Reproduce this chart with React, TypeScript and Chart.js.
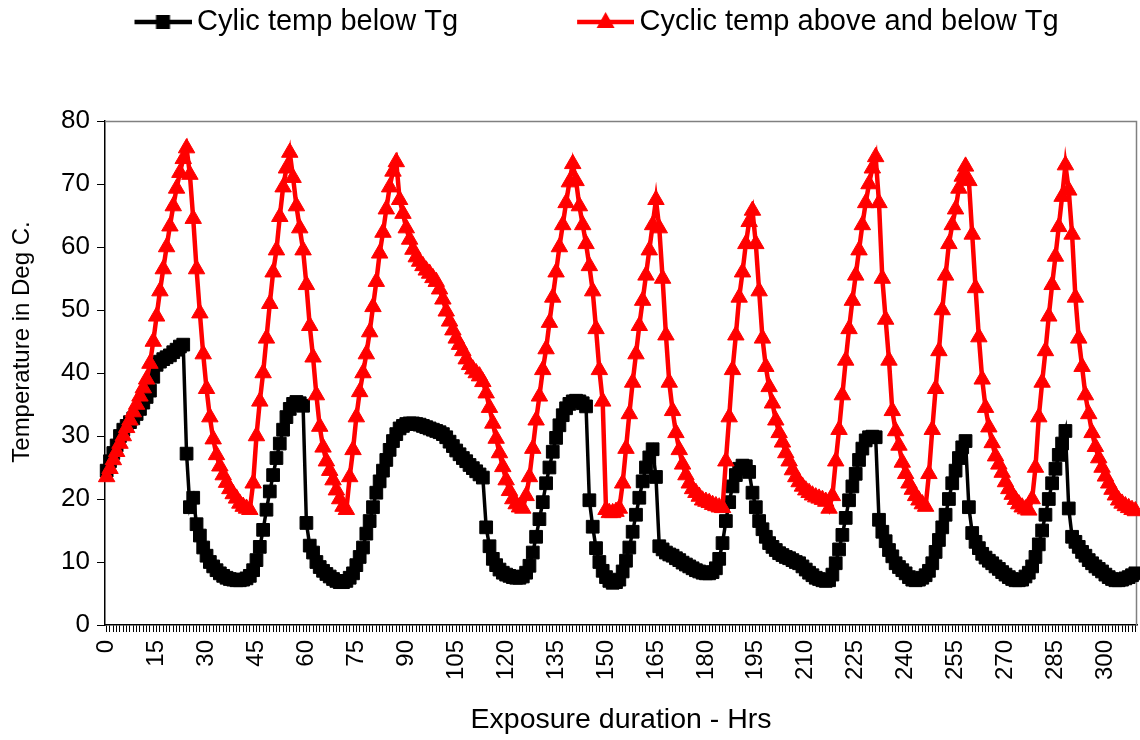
import React, { useEffect, useRef } from "react";
import { Chart, registerables } from "chart.js";

Chart.register(...registerables);

// ---------- data ----------
const HOURS: number[] = Array.from({ length: 310 }, (_, i) => i); // category axis, one per hour
const HOUR_LABEL_STEP = 15;
const Y_MIN = 0;
const Y_MAX = 80;
const Y_STEP = 10;

const SERIES_BELOW = "Cylic temp below Tg";
const SERIES_ABOVE = "Cyclic temp above and below Tg";
const X_TITLE = "Exposure duration - Hrs";
const Y_TITLE = "Temperature in Deg C.";

const BELOW_TG: number[] = [
  24.5, 26, 27.3, 28.5, 30, 31, 31.6, 32.2, 32.8, 33.5,
  34.3, 35.3, 36.2, 37.2, 39.4, 41.3, 41.8, 42.2, 42.5, 42.8,
  43.3, 43.7, 44.2, 44.5, 27.2, 18.7, 20.2, 16, 14.2, 12.3,
  11, 10, 9.3, 8.7, 8.2, 7.8, 7.5, 7.3, 7.2, 7.1,
  7.1, 7.2, 7.4, 7.8, 8.7, 10.3, 12.4, 15.1, 18.3, 21.2,
  23.8, 26.5, 28.8, 31, 33, 34.3, 35.1, 35.4, 35.2, 34.8,
  16.2, 12.6, 11.5, 10, 9.2, 8.6, 8.1, 7.7, 7.3, 7,
  6.8, 6.8, 7, 7.5, 8.2, 9.5, 10.8, 12.3, 14.5, 16.5,
  18.7, 21, 22.8, 24.5, 26.2, 27.8, 29.2, 30.3, 31.2, 31.6,
  31.9, 32, 32, 31.9, 31.8, 31.6, 31.4, 31.2, 31, 30.8,
  30.6, 30.3, 29.8, 29.1, 28.4, 27.7, 27.1, 26.5, 26, 25.4,
  24.9, 24.4, 23.9, 23.4, 15.5, 12.5, 10.5, 9.5, 8.8, 8.3,
  8, 7.8, 7.6, 7.5, 7.5, 7.7, 8.3, 9.4, 11.5, 14,
  16.8, 19.5, 22.5, 25, 27.5, 29.7, 31.7, 33.3, 34.4, 35.1,
  35.5, 35.6, 35.5, 35.2, 34.7, 19.8, 15.6, 12.2, 10, 8.6,
  7.6, 7, 6.7, 6.8, 7.2, 8.5, 10.2, 12.3, 14.8, 17.5,
  20.2, 22.8, 25, 26.6, 27.9, 23.5, 12.5, 12, 11.5, 11.2,
  11, 10.6, 10.3, 9.9, 9.6, 9.3, 9, 8.7, 8.5, 8.3,
  8.2, 8.2, 8.4, 9, 10.5, 13, 16.5, 19.5, 22, 23.8,
  24.8, 25.3, 25.2, 24.3, 21, 18.7, 16.5, 15.2, 14, 13,
  12.4, 11.9, 11.4, 11.1, 10.8, 10.6, 10.3, 10, 9.8, 9.3,
  8.8, 8.3, 7.9, 7.5, 7.3, 7.1, 7, 7.1, 8, 9.8,
  12, 14.3, 17, 19.8, 22, 24, 26.2, 28, 29.3, 29.8,
  29.9, 29.8, 16.7, 14.8, 13.3, 11.9, 10.9, 9.8, 9.2, 8.7,
  8.2, 7.6, 7.2, 7.1, 7.2, 7.5, 7.9, 8.6, 9.8, 11.6,
  13.5, 15.5, 17.5, 20, 22.5, 24.5, 26.5, 28.2, 29.2, 18.7,
  14.6, 13.2, 12.2, 11.3, 10.7, 10.2, 9.8, 9.3, 8.9, 8.4,
  8, 7.6, 7.3, 7.1, 7.1, 7.2, 7.7, 8.3, 9.3, 10.8,
  12.8, 15, 17.5, 20, 22.5, 24.8, 27, 28.8, 30.8, 18.5,
  14, 13.2, 12.4, 11.6, 11, 10.3, 9.8, 9.3, 8.9, 8.5,
  8, 7.6, 7.3, 7.1, 7.1, 7.2, 7.4, 7.6, 7.9, 8.2,
];

const ABOVE_BELOW_TG: number[] = [
  23.5, 24.8, 26.2, 27.5, 28.8, 30, 31.3, 32.5, 33.8, 35,
  36.3, 37.6, 39, 41.5, 45, 49, 53, 56.5, 60, 63.3,
  66.5, 69.3, 71.8, 74, 75.7, 71.5, 64.5, 56.5, 49.5, 43,
  37.5, 33, 29.5, 27, 25.2, 23.8, 22.6, 21.6, 20.8, 20.1,
  19.3, 18.8, 18.5, 18.3, 22.5, 30, 35.5, 40, 45.5, 51,
  56, 59.5, 64.8, 69.5, 72.5, 75, 71, 66.5, 63, 59.5,
  54, 47.5, 42.5, 36.5, 31.5, 28.2, 26, 24.5, 23, 21.4,
  20, 18.8, 18.3, 23.5, 27.8, 33, 37, 40, 43, 46.5,
  50.5, 54.5, 59, 62.3, 66, 69.5, 72, 73.5, 67.5, 65.3,
  63, 61.2, 59.6, 58.4, 57.7, 57, 56.3, 55.8, 55.1, 54.5,
  53.3, 51.7, 49.8, 48.2, 46.8, 45.5, 44.5, 43.5, 42.2, 41.3,
  40.6, 40, 39.5, 38.6, 36.8, 34.5, 32, 29.6, 27.3, 25.1,
  23, 21.3, 20, 19.2, 18.7, 18.5, 20.5, 23.5, 28, 32.5,
  36.3, 40.5, 43.8, 48, 52, 56, 60, 63.5, 67, 70.3,
  73.2, 70.5, 66.5, 63.5, 60.5, 57, 53, 47, 40.5, 35.5,
  18.3, 17.8, 17.8, 18, 18.5, 22.5, 28, 33.5, 38.5, 43,
  47.5, 51.5, 55.5, 59.5, 63.5, 67.5, 63, 55, 46, 38.5,
  34, 30.5, 27.8, 25.5, 23.8, 22.5, 21.6, 21, 20.4, 19.8,
  19.6, 19.4, 19.1, 18.9, 18.7, 18.6, 26, 33, 40.5, 46,
  52, 56, 60.5, 64, 65.8, 60.5, 53, 45.5, 41, 37.8,
  35.2, 32.5, 30.5, 29, 27.3, 26, 24.6, 23.5, 22.7, 22,
  21.4, 21, 20.6, 20.3, 20.1, 19.9, 19.6, 18.5, 20.5, 26,
  31, 36.5, 42, 47, 51.5, 55.5, 59.5, 63.5, 67, 70,
  72.5, 74.3, 67, 55, 48.5, 42, 34, 30.8, 28.5, 25.8,
  24, 22.5, 21.5, 20.5, 19.8, 19.2, 18.8, 24, 31, 37.5,
  43.5, 50, 55.5, 60.5, 63.5, 66, 69.3, 71.2, 72.8, 70.5,
  62, 53.5, 45.7, 39, 34.5, 31.4, 28.9, 26.8, 25.5, 24.2,
  22.7, 21.6, 20.7, 19.9, 19.2, 18.7, 18.4, 18.2, 20, 25,
  33, 38.5, 43.5, 49, 54, 58.5, 63.2, 68, 73, 69,
  62, 52, 45.5, 41, 36.5, 33.5, 30.5, 28.3, 26.5, 25,
  23.6, 22.5, 21.5, 20.6, 19.8, 19.3, 18.9, 18.6, 18.3, 18.1,
];

// ---------- layout / style ----------
const W = 1140;
const H = 740;
const PLOT_LEFT = 105;
const PLOT_RIGHT = 1137;
const PLOT_TOP = 121;
const PLOT_BOTTOM = 625;
const LEGEND_CY = 22;
const LEGEND_TEXT1_X = 197;
const LEGEND_TEXT2_X = 640;
const LEG_PAD = 10;
const Y_TITLE_CY = 342;

const FONT_FAMILY = '"Liberation Sans", Arial, Helvetica, sans-serif';
const LEGEND_SIZE = 29;
const Y_TICK_SIZE = 26;
const X_TICK_SIZE = 24;
const TITLE_SIZE = 24;
const X_TITLE_SIZE = 28.5;

const BLACK = "#000000";
const RED = "#ff0000";
const FRAME_GRAY = "#808080";

function makeIcon(color: string, kind: "rect" | "triangle", boxW: number): HTMLCanvasElement {
  const iw = boxW + 18;
  const ih = 24;
  const c = document.createElement("canvas");
  c.width = iw;
  c.height = ih;
  const g = c.getContext("2d")!;
  const x0 = boxW - 39;
  const x1 = iw;
  const cy = ih / 2;
  g.strokeStyle = color;
  g.lineWidth = 4.5;
  g.beginPath();
  g.moveTo(x0, cy);
  g.lineTo(x1, cy);
  g.stroke();
  const cx = (x0 + x1) / 2;
  g.fillStyle = color;
  if (kind === "rect") {
    g.fillRect(cx - 7, cy - 7, 14, 14);
  } else {
    g.beginPath();
    g.moveTo(cx, cy - 10);
    g.lineTo(cx + 9, cy + 6);
    g.lineTo(cx - 9, cy + 6);
    g.closePath();
    g.fill();
  }
  return c;
}

export default function App() {
  const ref = useRef<HTMLCanvasElement>(null);

  useEffect(() => {
    const canvas = ref.current;
    if (!canvas) return;

    const m = document.createElement("canvas").getContext("2d")!;
    m.font = `${LEGEND_SIZE}px ${FONT_FAMILY}`;
    const wBelow = m.measureText(SERIES_BELOW).width;
    const boxW = Math.round(LEGEND_TEXT2_X - LEGEND_TEXT1_X - wBelow - LEG_PAD - LEGEND_SIZE / 2);
    const icons = [makeIcon(BLACK, "rect", boxW), makeIcon(RED, "triangle", boxW)];

    const refLayout = {
      id: "refLayout",
      afterInit(chart: any) {
        const lg = chart.legend;
        if (!lg) return;
        const origFit = lg.fit;
        lg.fit = function () {
          origFit.call(this);
          this.height = PLOT_TOP;
        };
        const origDraw = lg.draw;
        lg.draw = function (...args: any[]) {
          const ctx = this.ctx;
          const dx = LEGEND_TEXT1_X - (this.left + LEG_PAD + boxW + LEGEND_SIZE / 2);
          const dy = LEGEND_CY - (this.top + LEG_PAD + LEGEND_SIZE / 2);
          ctx.save();
          ctx.translate(dx, dy);
          origDraw.apply(this, args);
          ctx.restore();
        };
      },
      beforeDraw(chart: any) {
        const y = chart.scales.y;
        if (y && !y.__shifted) {
          const orig = y.drawTitle;
          y.drawTitle = function (...args: any[]) {
            const ctx = this.ctx;
            const shift = Y_TITLE_CY - (this.top + this.bottom) / 2;
            ctx.save();
            ctx.translate(0, shift);
            orig.apply(this, args);
            ctx.restore();
          };
          y.__shifted = true;
        }
      },
      beforeDatasetsDraw(chart: any) {
        const { ctx, chartArea } = chart;
        ctx.save();
        ctx.strokeStyle = FRAME_GRAY;
        ctx.lineWidth = 1.5;
        ctx.beginPath();
        ctx.moveTo(chartArea.left, chartArea.top + 0.5);
        ctx.lineTo(chartArea.right - 0.5, chartArea.top + 0.5);
        ctx.lineTo(chartArea.right - 0.5, chartArea.bottom);
        ctx.stroke();
        ctx.restore();
      },
    };

    const chart = new Chart(canvas, {
      type: "line",
      data: {
        labels: HOURS,
        datasets: [
          {
            label: SERIES_BELOW,
            data: BELOW_TG,
            borderColor: BLACK,
            backgroundColor: BLACK,
            borderWidth: 3.5,
            pointStyle: "rect",
            pointRadius: 9,
            pointBorderWidth: 1,
            pointBackgroundColor: BLACK,
            pointBorderColor: BLACK,
            tension: 0,
            fill: false,
            clip: false as any,
            order: 1,
          },
          {
            label: SERIES_ABOVE,
            data: ABOVE_BELOW_TG,
            borderColor: RED,
            backgroundColor: RED,
            borderWidth: 4.5,
            pointStyle: "triangle",
            pointRadius: 9.5,
            pointBorderWidth: 1,
            pointBackgroundColor: RED,
            pointBorderColor: RED,
            tension: 0,
            fill: false,
            clip: false as any,
            order: 0,
          },
        ],
      },
      options: {
        responsive: true,
        maintainAspectRatio: false,
        animation: false,
        devicePixelRatio: 1,
        events: [],
        layout: { autoPadding: false, padding: { left: 0, right: W - PLOT_RIGHT, top: 0, bottom: 0 } },
        plugins: {
          tooltip: { enabled: false },
          legend: {
            display: true,
            position: "top",
            align: "start",
            labels: {
              usePointStyle: true,
              pointStyleWidth: boxW,
              padding: LEG_PAD,
              color: BLACK,
              font: { family: FONT_FAMILY, size: LEGEND_SIZE },
              generateLabels: (ch: any) =>
                ch.data.datasets.map((ds: any, i: number) => ({
                  text: ds.label,
                  datasetIndex: i,
                  fillStyle: ds.borderColor,
                  strokeStyle: ds.borderColor,
                  lineWidth: 0,
                  hidden: false,
                  pointStyle: icons[i],
                  fontColor: BLACK,
                })),
            },
          },
        },
        scales: {
          x: {
            type: "category",
            offset: true,
            border: { display: true, color: BLACK, width: 1.5 },
            grid: {
              display: true,
              drawOnChartArea: false,
              drawTicks: true,
              tickLength: 7,
              tickColor: BLACK,
              tickWidth: 1,
            },
            ticks: {
              autoSkip: false,
              maxRotation: 90,
              minRotation: 90,
              padding: 8,
              color: BLACK,
              font: { family: FONT_FAMILY, size: X_TICK_SIZE },
              callback: (_v: any, i: number) => (i % HOUR_LABEL_STEP === 0 ? String(HOURS[i]) : ""),
            },
            title: {
              display: true,
              text: X_TITLE,
              color: BLACK,
              font: { family: FONT_FAMILY, size: X_TITLE_SIZE },
              padding: { top: 0, bottom: 3 },
            },
            afterFit: (s: any) => {
              s.height = H - PLOT_BOTTOM;
              s.paddingLeft = 0;
              s.paddingRight = 0;
            },
          },
          y: {
            min: Y_MIN,
            max: Y_MAX,
            border: { display: true, color: BLACK, width: 1.5 },
            grid: {
              display: true,
              drawOnChartArea: false,
              drawTicks: true,
              tickLength: 8,
              tickColor: BLACK,
            },
            ticks: {
              stepSize: Y_STEP,
              padding: 7,
              color: BLACK,
              font: { family: FONT_FAMILY, size: Y_TICK_SIZE },
            },
            title: {
              display: true,
              text: Y_TITLE,
              color: BLACK,
              font: { family: FONT_FAMILY, size: TITLE_SIZE },
              padding: { top: 8, bottom: 0 },
            },
            afterFit: (s: any) => {
              s.width = PLOT_LEFT;
            },
          },
        },
      } as any,
      plugins: [refLayout as any],
    });

    return () => chart.destroy();
  }, []);

  return (
    <div style={{ position: "fixed", left: 0, top: 0, width: W, height: H, background: "#ffffff" }}>
      <canvas ref={ref} style={{ display: "block" }} />
    </div>
  );
}
